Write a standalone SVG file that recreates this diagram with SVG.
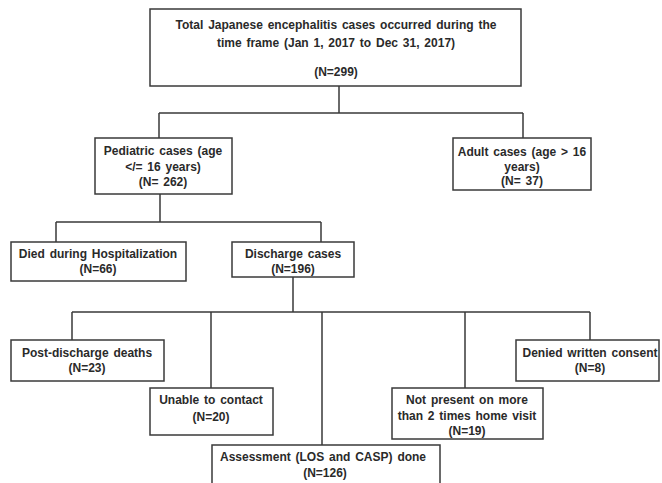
<svg xmlns="http://www.w3.org/2000/svg" width="662" height="483" viewBox="0 0 662 483">
<style>
.box{fill:#fff;stroke:#3a3a3a;stroke-width:1.5}
.ln{fill:none;stroke:#3a3a3a;stroke-width:1.5}
text{font-family:"Liberation Sans",Arial,sans-serif;font-size:12px;font-weight:bold;fill:#2a2a2a;text-anchor:middle;word-spacing:1.5px}
</style>
<rect width="662" height="483" fill="#fff"/>
<g id="connectors">
<path class="ln" d="M339 86V113M159 113H523M159 113V138M523 113V138"/>
<path class="ln" d="M160 194V222M56 222H321M56 222V242M321 222V242"/>
<path class="ln" d="M293 277V312M72 312H590M72 312V340M211 312V388M322 312V445M465 312V388M590 312V340"/>
</g>
<g id="total">
<rect class="box" x="150" y="9" width="371" height="77"/>
<text x="336" y="29">Total Japanese encephalitis cases occurred during the</text>
<text x="336" y="47">time frame (Jan 1, 2017 to Dec 31, 2017)</text>
<text x="336" y="76">(N=299)</text>
</g>
<g id="pediatric">
<rect class="box" x="95" y="138" width="137" height="56"/>
<text x="163" y="155">Pediatric cases (age</text>
<text x="163" y="171">&lt;/= 16 years)</text>
<text x="163" y="186">(N= 262)</text>
</g>
<g id="adult">
<rect class="box" x="453" y="138" width="138" height="52"/>
<text x="522" y="156">Adult cases (age &gt; 16</text>
<text x="522" y="171">years)</text>
<text x="522" y="185">(N= 37)</text>
</g>
<g id="died">
<rect class="box" x="11" y="242" width="175" height="39"/>
<text x="98" y="258">Died during Hospitalization</text>
<text x="98" y="273">(N=66)</text>
</g>
<g id="discharge">
<rect class="box" x="232" y="242" width="122" height="35"/>
<text x="293" y="258">Discharge cases</text>
<text x="293" y="273">(N=196)</text>
</g>
<g id="postdeaths">
<rect class="box" x="11" y="340" width="153" height="41"/>
<text x="87" y="357">Post-discharge deaths</text>
<text x="87" y="372">(N=23)</text>
</g>
<g id="unable">
<rect class="box" x="150" y="388" width="123" height="47"/>
<text x="211" y="404">Unable to contact</text>
<text x="211" y="421">(N=20)</text>
</g>
<g id="notpresent">
<rect class="box" x="392" y="388" width="151" height="51"/>
<text x="467" y="404">Not present on more</text>
<text x="467" y="420">than 2 times home visit</text>
<text x="467" y="435">(N=19)</text>
</g>
<g id="denied">
<rect class="box" x="516" y="340" width="143" height="41"/>
<text x="590" y="357">Denied written consent</text>
<text x="590" y="372">(N=8)</text>
</g>
<g id="assessment">
<rect class="box" x="212" y="445" width="228" height="45"/>
<text x="220" y="461" style="text-anchor:start">Assessment (LOS and CASP) done</text>
<text x="325" y="477">(N=126)</text>
</g>
</svg>
